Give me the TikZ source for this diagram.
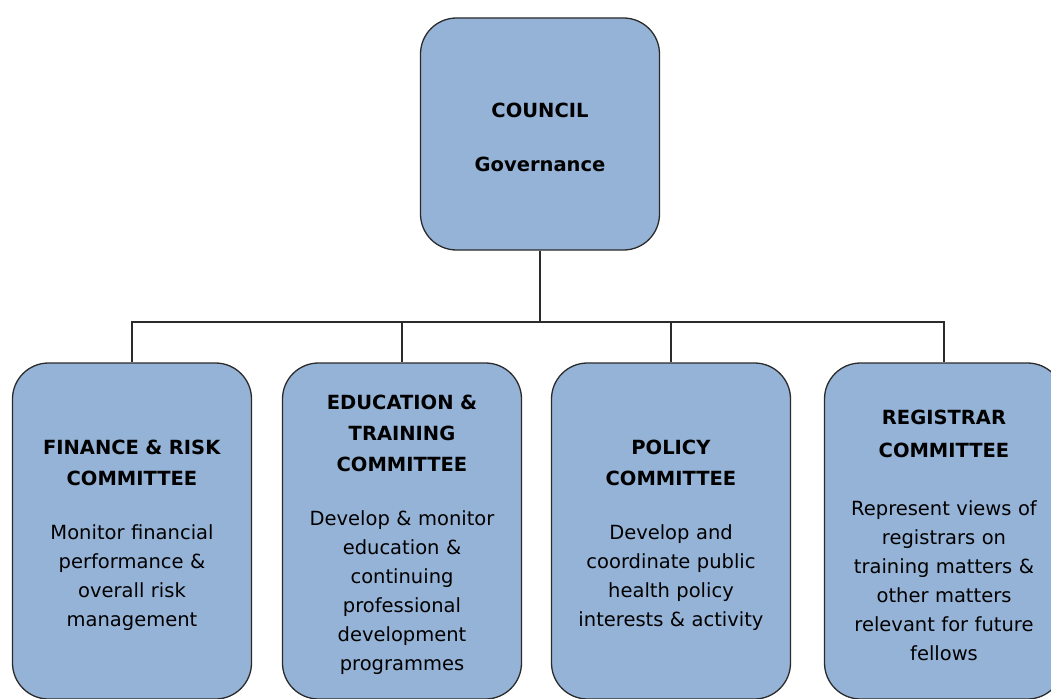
\documentclass[tikz,border=0pt]{standalone}
\usepackage{fontspec}
\setmainfont{DejaVu Sans}
\definecolor{boxblue}{HTML}{95B3D7}
\definecolor{edge}{HTML}{2B2B2B}
\begin{document}
\begin{tikzpicture}[x=1pt,y=-1pt,
  orgbox/.style={draw=edge, line width=1.3pt, fill=boxblue, rounded corners=36pt,
    minimum width=239pt},
  boxtext/.style={align=center, inner sep=0pt, text width=231pt,
    font=\fontsize{19.5}{29}\selectfont},
  link/.style={draw=edge, line width=1.8pt}]
\useasboundingbox (0,0) rectangle (1051,698);
\clip (0,0) rectangle (1051,698);
\fill[white] (0,0) rectangle (1051,698);

\node[orgbox, minimum height=232pt] (council) at (540,134) {};
\node[boxtext] (t0) at ([yshift=-3pt]council.center)
  {\textbf{COUNCIL}\\[25pt]\textbf{Governance}};

\node[orgbox, minimum height=336pt] (c1) at (132,531) {};
\node[orgbox, minimum height=336pt] (c2) at (402,531) {};
\node[orgbox, minimum height=336pt] (c3) at (671,531) {};
\node[orgbox, minimum height=336pt] (c4) at (944,531) {};

\node[boxtext] (t1) at ([yshift=-4pt]c1.center)
  {\textbf{FINANCE \& RISK}\\[2pt]\textbf{COMMITTEE}\\[25pt]
   Monitor financial\\performance \&\\overall risk\\management};
\node[boxtext] (t2) at ([yshift=-4pt]c2.center)
  {\textbf{EDUCATION \&}\\[2pt]\textbf{TRAINING}\\[2pt]\textbf{COMMITTEE}\\[25pt]
   Develop \& monitor\\education \&\\continuing\\professional\\development\\programmes};
\node[boxtext] (t3) at ([yshift=-4pt]c3.center)
  {\textbf{POLICY}\\[2pt]\textbf{COMMITTEE}\\[25pt]
   Develop and\\coordinate public\\health policy\\interests \& activity};
\node[boxtext] (t4) at ([yshift=-4pt]c4.center)
  {\textbf{REGISTRAR}\\[4pt]\textbf{COMMITTEE}\\[29pt]
   Represent views of\\registrars on\\training matters \&\\other matters\\relevant for future\\fellows};

\coordinate (j) at (540,322);
\draw[link] (council.south) -- (j);
\draw[link] (c1.north) |- (j) -| (c4.north);
\draw[link] (j) -| (c2.north);
\draw[link] (j) -| (c3.north);
\end{tikzpicture}
\end{document}
